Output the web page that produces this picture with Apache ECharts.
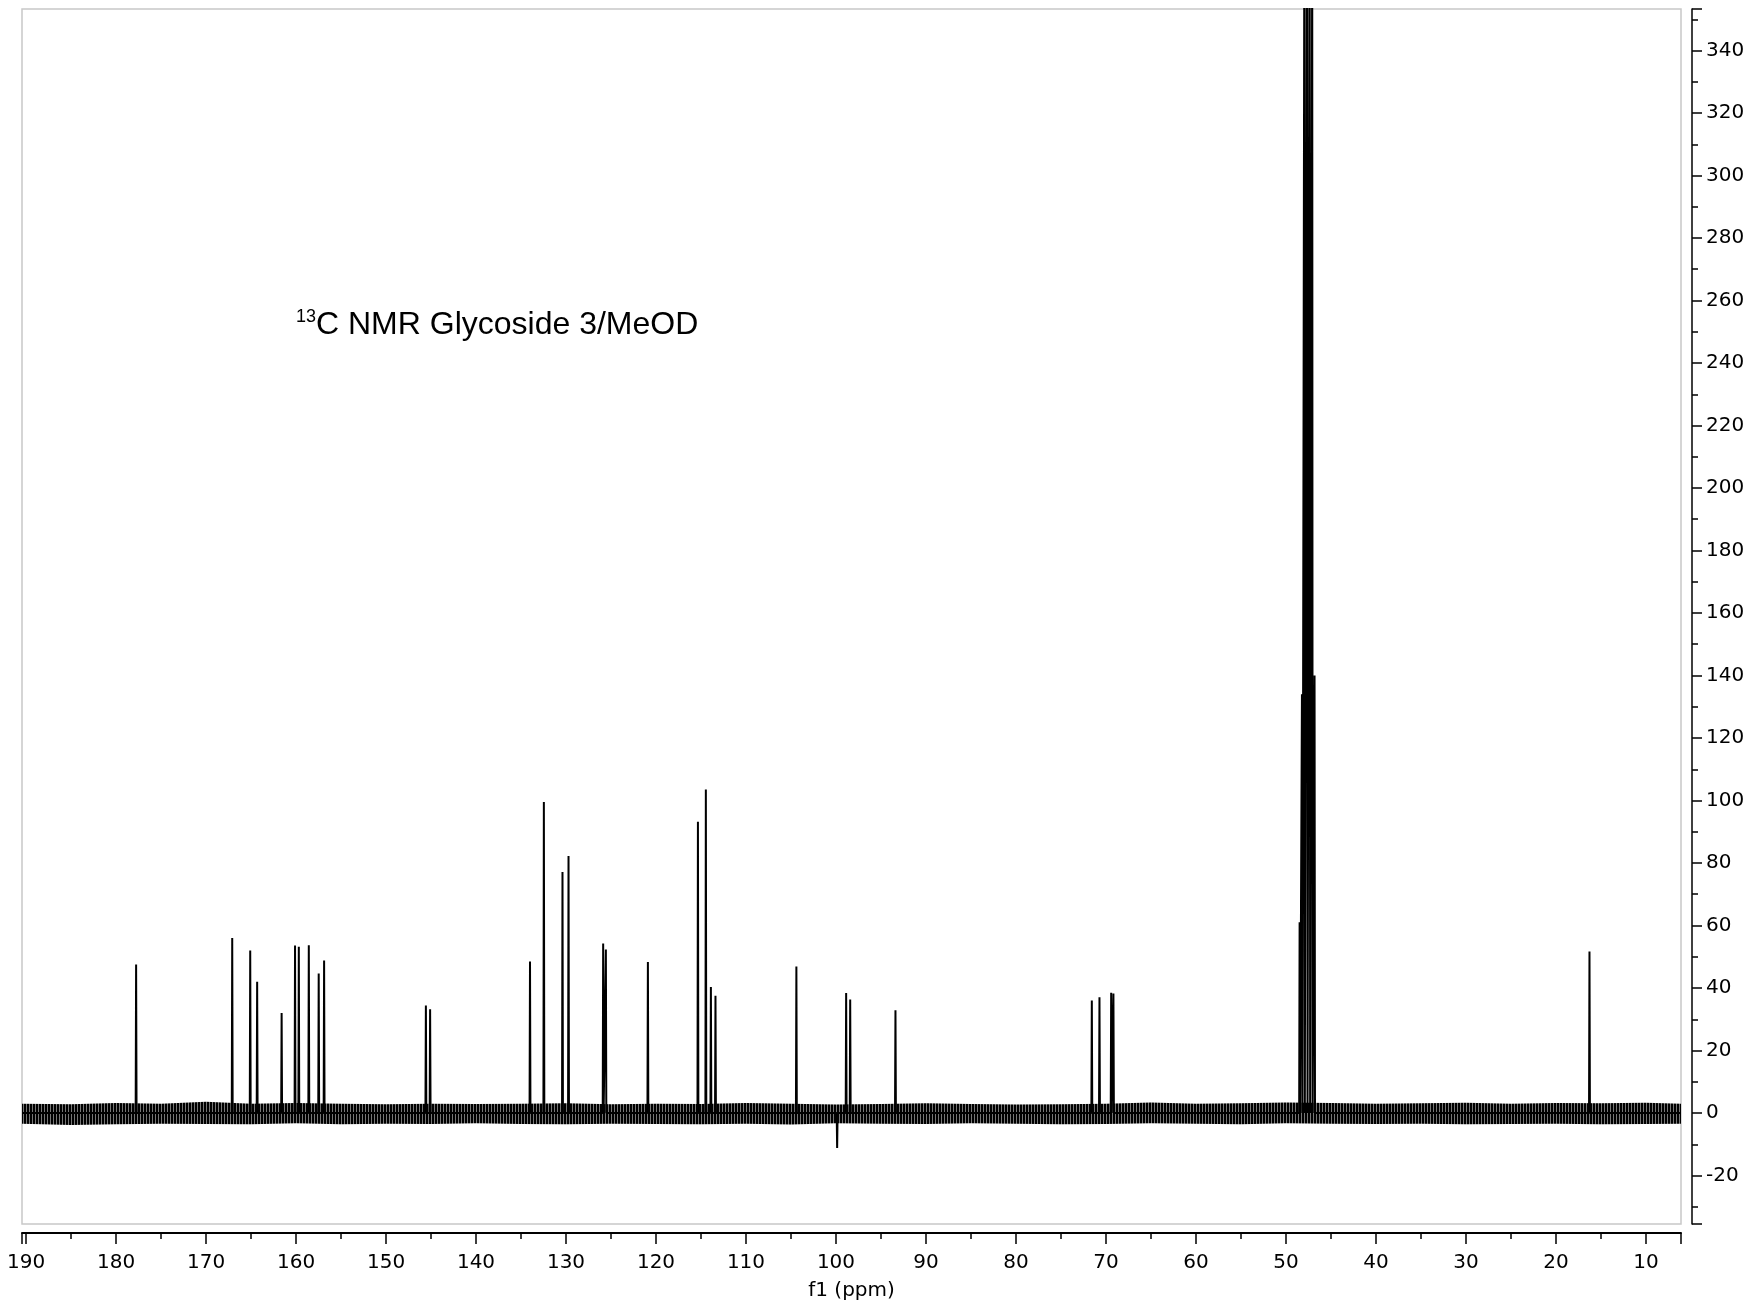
<!DOCTYPE html>
<html>
<head>
<meta charset="utf-8">
<title>13C NMR Glycoside 3/MeOD</title>
<script src="https://cdn.jsdelivr.net/npm/echarts@6.0.0/dist/echarts.min.js"></script>
<style>
  html, body { margin: 0; padding: 0; background: #fff; }
  #main { width: 1752px; height: 1307px; }
</style>
</head>
<body>
<div id="main"></div>
<script>
// peak positions (ppm) and intensities
const peakPpm = [
  177.77, 167.09, 165.09, 164.32, 161.60, 160.11, 159.69, 158.58, 157.48, 156.88,
  145.57, 145.10, 134.00, 132.46, 130.39, 129.72, 125.87, 125.57, 120.90,
  115.34, 114.46, 113.90, 113.39, 104.40, 99.87, 98.87, 98.42, 93.39,
  71.57, 70.72, 69.42, 69.17,
  48.48, 48.22, 47.95, 47.65, 47.36, 47.08, 46.82,
  16.27
];
const peakHeight = [
  47.5, 56, 52, 42, 32, 53.6, 53.2, 53.7, 44.6, 48.8,
  34.4, 33.2, 48.5, 99.5, 77.1, 82.2, 54.2, 52.3, 48.3,
  93.2, 103.5, 40.3, 37.5, 46.9, -11.2, 38.4, 36.3, 32.9,
  36, 37, 38.5, 38.2,
  61, 134, 390, 420, 400, 380, 140,
  51.7
];

// baseline noise envelope (upper / lower edge) every 5 ppm
const noisePpm = [190.45, 185, 180, 175, 170, 165, 160, 155, 150, 145, 140, 135, 130, 125, 120,
  115, 110, 105, 100, 95, 90, 85, 80, 75, 70, 65, 60, 55, 50, 45, 40, 35, 30, 25, 20, 15, 10, 6.1];
const noiseHigh = [3.0, 2.8, 3.2, 3.0, 3.6, 3.0, 3.2, 3.0, 2.8, 3.0, 2.9, 3.0, 3.1, 2.8, 3.0,
  2.9, 3.2, 3.0, 2.7, 2.9, 3.1, 2.9, 2.7, 2.8, 3.0, 3.4, 3.0, 3.1, 3.4, 3.2, 3.0, 3.1, 3.3, 3.0, 3.2, 3.1, 3.3, 3.0];
const noiseLow = [-3.4, -3.8, -3.6, -3.4, -3.5, -3.6, -3.3, -3.6, -3.4, -3.5, -3.3, -3.5, -3.6, -3.4, -3.5,
  -3.6, -3.4, -3.7, -3.3, -3.4, -3.5, -3.3, -3.4, -3.6, -3.5, -3.3, -3.4, -3.6, -3.3, -3.4, -3.5, -3.4, -3.6, -3.5, -3.4, -3.6, -3.5, -3.4];

// tick labels
const xTicks = [190, 180, 170, 160, 150, 140, 130, 120, 110, 100, 90, 80, 70, 60, 50, 40, 30, 20, 10];
const yTicks = [340, 320, 300, 280, 260, 240, 220, 200, 180, 160, 140, 120, 100, 80, 60, 40, 20, 0, -20];

const ppmMin = 6.1, ppmMax = 190.45;
const yMin = -35.52, yMax = 353.28;
const halfWidth = 0.05; // spike half width in ppm

// build the spectrum trace: baseline at 0, one narrow spike per peak
let order = peakPpm.map((p, i) => i).sort((a, b) => peakPpm[b] - peakPpm[a]);
let trace = [[ppmMax, 0]];
order.forEach(i => {
  trace.push([peakPpm[i] + halfWidth, 0]);
  trace.push([peakPpm[i], peakHeight[i]]);
  trace.push([peakPpm[i] - halfWidth, 0]);
});
trace.push([ppmMin, 0]);

let upper = noisePpm.map((p, i) => [p, noiseHigh[i]]);
let lower = noisePpm.map((p, i) => [p, noiseLow[i]]);

// striped fill so the noise band reads as dense vertical strokes
let stripe = document.createElement("canvas");
stripe.width = 3;
stripe.height = 4;
let sctx = stripe.getContext("2d");
sctx.fillStyle = "#777";
sctx.fillRect(0, 0, 3, 4);
sctx.fillStyle = "#000";
sctx.fillRect(0, 0, 2, 4);
let noiseFill = { image: stripe, repeat: "repeat" };

const axisFont = "DejaVu Sans";

let myChart = echarts.init(document.getElementById("main"), null, { renderer: "canvas" });
myChart.setOption({
  animation: false,
  backgroundColor: "#fff",
  grid: {
    left: 22,
    right: 71,
    top: 9,
    bottom: 83,
    show: true,
    borderColor: "#c8c8c8",
    borderWidth: 1.5,
    backgroundColor: "#fff",
    containLabel: false,
    outerBoundsMode: "none"
  },
  xAxis: {
    type: "value",
    inverse: true,
    min: ppmMin,
    max: ppmMax,
    splitNumber: 18,
    minInterval: 10,
    maxInterval: 10,
    position: "bottom",
    offset: 9,
    name: "f1 (ppm)",
    nameLocation: "middle",
    nameGap: 48,
    nameTextStyle: { fontFamily: axisFont, fontSize: 20, color: "#000" },
    axisLine: { show: true, onZero: false, lineStyle: { color: "#000", width: 2 } },
    axisTick: { show: true, length: 11, lineStyle: { color: "#000", width: 1.5 } },
    minorTick: { show: true, splitNumber: 2, length: 6, lineStyle: { color: "#000", width: 1.5 } },
    axisLabel: {
      margin: 20,
      fontFamily: axisFont,
      fontSize: 20,
      color: "#000",
      formatter: function (v) { return xTicks.indexOf(Math.round(v * 100) / 100) >= 0 ? String(v) : ""; }
    },
    splitLine: { show: false },
    minorSplitLine: { show: false }
  },
  yAxis: {
    type: "value",
    min: yMin,
    max: yMax,
    splitNumber: 19,
    minInterval: 20,
    maxInterval: 20,
    position: "right",
    offset: 11,
    axisLine: { show: true, onZero: false, lineStyle: { color: "#000", width: 1.5 } },
    axisTick: { show: true, inside: false, length: 10, lineStyle: { color: "#000", width: 1.5 } },
    minorTick: { show: true, splitNumber: 2, length: 6, lineStyle: { color: "#000", width: 1.5 } },
    axisLabel: {
      margin: 14,
      fontFamily: axisFont,
      fontSize: 20,
      color: "#000",
      formatter: function (v) { return yTicks.indexOf(Math.round(v * 100) / 100) >= 0 ? String(v) : ""; }
    },
    splitLine: { show: false },
    minorSplitLine: { show: false }
  },
  graphic: [
    {
      type: "text",
      x: 296,
      y: 317,
      style: { text: "13", font: "18px 'Liberation Sans', Arial", fill: "#000", verticalAlign: "middle" }
    },
    {
      type: "text",
      x: 316,
      y: 325,
      style: { text: "C NMR Glycoside 3/MeOD", font: "32px 'Liberation Sans', Arial", fill: "#000", verticalAlign: "middle" }
    }
  ],
  series: [
    {
      name: "noise+",
      type: "line",
      data: upper,
      showSymbol: false,
      silent: true,
      lineStyle: { width: 0 },
      areaStyle: { origin: 0, color: noiseFill, opacity: 1 },
      z: 1
    },
    {
      name: "noise-",
      type: "line",
      data: lower,
      showSymbol: false,
      silent: true,
      lineStyle: { width: 0 },
      areaStyle: { origin: 0, color: noiseFill, opacity: 1 },
      z: 1
    },
    {
      name: "13C",
      type: "line",
      data: trace,
      showSymbol: false,
      clip: true,
      lineStyle: { color: "#000", width: 2 },
      z: 2
    }
  ]
});
</script>
</body>
</html>
